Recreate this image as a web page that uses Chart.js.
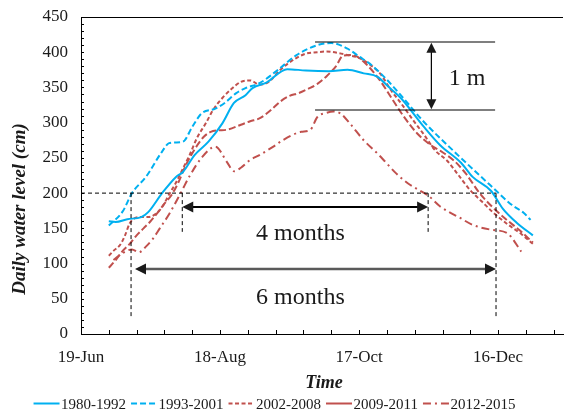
<!DOCTYPE html>
<html>
<head>
<meta charset="utf-8">
<script src="https://cdn.jsdelivr.net/npm/chart.js@4.4.1/dist/chart.umd.min.js"></script>
<style>
  html, body { margin: 0; padding: 0; background: #fff; }
</style>
</head>
<body>
<canvas id="c" width="565" height="414"></canvas>
<script>
// x values are days counted from 19-Jun
var xTickDays   = [0, 60, 120, 180];
var xTickLabels = ["19-Jun", "18-Aug", "17-Oct", "16-Dec"];

var days1980  = [12, 15, 20, 26, 29, 35, 41, 44, 49, 55, 61, 66, 71, 74, 80, 89, 97, 107, 115, 122, 128, 132, 138, 148, 155, 164, 169, 177, 182, 188, 195];
var level1980 = [160, 159, 163, 166, 173, 200, 223, 230, 254, 273, 299, 328, 339, 349, 357, 376, 374, 373, 375, 370, 365, 353, 335, 294, 268, 243, 223, 203, 178, 158, 140];

var days1993  = [12, 18, 22, 28, 35, 38, 41, 44, 48, 52, 58, 62, 67, 71, 77, 85, 93, 102, 108, 115, 120, 126, 132, 138, 148, 162, 177, 186, 191, 194];
var level1993 = [154, 174, 200, 223, 259, 271, 272, 273, 294, 313, 320, 328, 342, 349, 356, 375, 396, 410, 413, 405, 394, 380, 361, 339, 301, 256, 210, 183, 172, 162];

var days2002  = [12, 14, 17, 19, 21, 23, 26, 29, 32, 35, 38, 41, 44, 47, 50, 54, 57, 61, 65, 69, 73, 77, 81, 86, 92, 97, 102, 106, 111, 115, 120, 124, 129, 134, 138, 143, 148, 153, 158, 163, 168, 173, 178, 184, 190, 195];
var level2002 = [111, 118, 127, 140, 157, 164, 166, 166, 170, 180, 198, 215, 235, 255, 278, 300, 318, 335, 348, 358, 360, 354, 358, 375, 390, 398, 400, 401, 399, 396, 392, 384, 370, 345, 328, 305, 283, 260, 246, 225, 204, 188, 172, 156, 142, 128];

var days2009  = [12, 15, 18, 21, 24, 27, 30, 33, 36, 39, 42, 45, 49, 53, 56, 59, 63, 69, 73, 77, 82, 86, 90, 94, 98, 102, 106, 110, 113, 116, 119, 124, 129, 134, 139, 145, 151, 156, 161, 166, 172, 177, 183, 189, 195];
var level2009 = [94, 105, 118, 128, 140, 150, 160, 172, 185, 197, 215, 238, 262, 280, 287, 289, 290, 297, 302, 306, 318, 330, 338, 342, 348, 355, 366, 380, 395, 396, 394, 380, 360, 335, 310, 285, 268, 258, 246, 228, 200, 182, 164, 148, 130];

var days2012  = [14, 18, 22, 25, 28, 31, 34, 38, 43, 47, 52, 58, 63, 66, 69, 73, 77, 83, 87, 95, 99, 102, 106, 109, 112, 116, 122, 128, 132, 136, 141, 145, 150, 155, 164, 169, 177, 184, 190];
var level2012 = [105, 115, 120, 116, 124, 135, 150, 170, 200, 225, 250, 266, 244, 231, 236, 247, 254, 266, 275, 287, 290, 308, 314, 316, 313, 299, 275, 256, 242, 228, 214, 206, 196, 181, 164, 155, 148, 143, 117];

var SERIF = "'Liberation Serif', 'Times New Roman', serif";
var CYAN = "#00b0f0", RED = "#c0504d", INK = "#1a1a1a";

function pts(days, vals) {
  return days.map(function(d, i) { return { x: d, y: vals[i] }; });
}

function line(label, days, vals, color, dash, legendDash) {
  return {
    label: label, data: pts(days, vals),
    borderColor: color, backgroundColor: color,
    borderWidth: 2, borderDash: dash, legendDash: legendDash || dash,
    pointRadius: 0, fill: false,
    tension: 0.4, cubicInterpolationMode: "monotone"
  };
}

// ── ticks, frame, annotations, titles, legend ────────────────
var decor = {
  id: "decor",
  afterDraw: function(chart) {
    var c = chart.ctx, xs = chart.scales.x, ys = chart.scales.y, a = chart.chartArea;
    function X(d) { return xs.getPixelForValue(d); }
    function Y(v) { return ys.getPixelForValue(v); }
    c.save();

    // top frame + inside ticks
    c.strokeStyle = "#000"; c.lineWidth = 1; c.setLineDash([]);
    c.beginPath(); c.moveTo(a.left, Math.round(a.top) + 0.5); c.lineTo(a.right, Math.round(a.top) + 0.5); c.stroke();
    c.beginPath();
    for (var v = 0; v <= 450; v += 10) { var y = Math.round(Y(v)) + 0.5; c.moveTo(a.left, y); c.lineTo(a.left + 3, y); }
    for (var d = 12; d <= 208; d += 12) { var x = Math.round(X(d)) + 0.5; c.moveTo(x, a.bottom); c.lineTo(x, a.bottom - 4); }
    c.stroke();

    // 200 cm threshold and the period markers
    var sixM = [21.6, 179.1], fourM = [43.7, 149.8];
    c.setLineDash([4, 3]); c.lineWidth = 1; c.strokeStyle = "#000";
    c.beginPath();
    c.moveTo(a.left, Y(200)); c.lineTo(X(sixM[1]), Y(200));
    c.moveTo(X(sixM[0]), Y(200)); c.lineTo(X(sixM[0]), Y(25));
    c.moveTo(X(sixM[1]), Y(200)); c.lineTo(X(sixM[1]), Y(25));
    c.moveTo(X(fourM[0]), Y(200)); c.lineTo(X(fourM[0]), Y(145));
    c.moveTo(X(fourM[1]), Y(200)); c.lineTo(X(fourM[1]), Y(145));
    c.stroke();
    c.setLineDash([]);

    function head(x, y, ang, size, col) {
      c.fillStyle = col;
      c.beginPath();
      c.moveTo(x, y);
      c.lineTo(x - size * Math.cos(ang) + size * 0.5 * Math.sin(ang), y - size * Math.sin(ang) - size * 0.5 * Math.cos(ang));
      c.lineTo(x - size * Math.cos(ang) - size * 0.5 * Math.sin(ang), y - size * Math.sin(ang) + size * 0.5 * Math.cos(ang));
      c.closePath(); c.fill();
    }
    function dblArrow(x1, y1, x2, y2, col, w, size) {
      var ang = Math.atan2(y2 - y1, x2 - x1);
      c.strokeStyle = col; c.lineWidth = w;
      c.beginPath(); c.moveTo(x1 + Math.cos(ang) * size * 0.7, y1 + Math.sin(ang) * size * 0.7);
      c.lineTo(x2 - Math.cos(ang) * size * 0.7, y2 - Math.sin(ang) * size * 0.7); c.stroke();
      head(x2, y2, ang, size, INK);
      head(x1, y1, ang + Math.PI, size, INK);
    }

    dblArrow(X(fourM[0]), Y(180.3), X(fourM[1]), Y(180.3), "#000", 2, 11);
    dblArrow(X(23.3), Y(92.3), X(sixM[1]), Y(92.3), "#5a5a5a", 2.5, 11);

    // 1 m range between the highest and lowest peaks
    c.strokeStyle = "#000"; c.lineWidth = 1.2;
    c.beginPath();
    c.moveTo(X(101), Y(414.5)); c.lineTo(X(178.7), Y(414.5));
    c.moveTo(X(101), Y(318));   c.lineTo(X(178.7), Y(318));
    c.stroke();
    dblArrow(X(151.2), Y(413.5), X(151.2), Y(319), "#000", 1.2, 10);

    c.fillStyle = INK; c.textAlign = "center"; c.textBaseline = "middle";
    c.font = "24px " + SERIF;
    c.fillText("4 months", X(94.7), Y(142));
    c.fillText("6 months", X(94.7), Y(51));
    c.fillText("1 m", X(166.6), Y(362));

    // axis titles
    c.font = "bold italic 18px " + SERIF;
    c.textBaseline = "alphabetic";
    c.fillText("Time", (a.left + a.right) / 2 + 2, 388);
    c.save();
    c.translate(25, 209);
    c.rotate(-Math.PI / 2);
    c.font = "bold italic 19px " + SERIF;
    c.fillText("Daily water level (cm)", 0, 0);
    c.restore();

    // legend
    c.font = "15px " + SERIF; c.textAlign = "left"; c.textBaseline = "alphabetic";
    var sets = chart.data.datasets, sample = 26, gapT = 1.5, gapI = 5, total = 0;
    sets.forEach(function(ds) { total += sample + gapT + c.measureText(ds.label).width; });
    total += gapI * (sets.length - 1);
    var lx = 274.5 - total / 2, ly = 403.5;
    sets.forEach(function(ds) {
      c.strokeStyle = ds.borderColor; c.lineWidth = 2; c.setLineDash(ds.legendDash);
      c.beginPath(); c.moveTo(lx, ly); c.lineTo(lx + sample, ly); c.stroke();
      c.setLineDash([]);
      c.fillStyle = INK;
      c.fillText(ds.label, lx + sample + gapT, 408.5);
      lx += sample + gapT + c.measureText(ds.label).width + gapI;
    });
    c.restore();
  }
};

new Chart(document.getElementById("c").getContext("2d"), {
  type: "line",
  data: {
    datasets: [
      line("1980-1992", days1980, level1980, CYAN, []),
      line("1993-2001", days1993, level1993, CYAN, [6, 3]),
      line("2002-2008", days2002, level2002, RED, [4, 2.5]),
      line("2009-2011", days2009, level2009, RED, [7, 3], []),
      line("2012-2015", days2012, level2012, RED, [8, 4, 2, 4])
    ]
  },
  options: {
    responsive: false,
    animation: false,
    devicePixelRatio: 1,
    layout: { padding: { top: 17, right: 2, left: 0, bottom: 0 } },
    plugins: { legend: { display: false }, tooltip: { enabled: false } },
    scales: {
      x: {
        type: "linear", min: 0, max: 208,
        afterBuildTicks: function(s) { s.ticks = xTickDays.map(function(v) { return { value: v }; }); },
        afterFit: function(s) { s.height = 80; s.paddingLeft = 0; s.paddingRight = 0; },
        grid: { display: false, drawTicks: false },
        border: { display: true, color: "#000", width: 1 },
        ticks: {
          padding: 13, color: INK, maxRotation: 0, autoSkip: false,
          font: { family: SERIF, size: 17 },
          callback: function(v) { var i = xTickDays.indexOf(v); return i < 0 ? "" : xTickLabels[i]; }
        }
      },
      y: {
        min: 0, max: 450,
        afterFit: function(s) { s.width = 81; s.paddingTop = 0; s.paddingBottom = 0; },
        grid: { display: false, drawTicks: false },
        border: { display: true, color: "#000", width: 1 },
        ticks: { stepSize: 50, padding: 13, color: INK, font: { family: SERIF, size: 17 } }
      }
    }
  },
  plugins: [decor]
});
</script>
</body>
</html>
